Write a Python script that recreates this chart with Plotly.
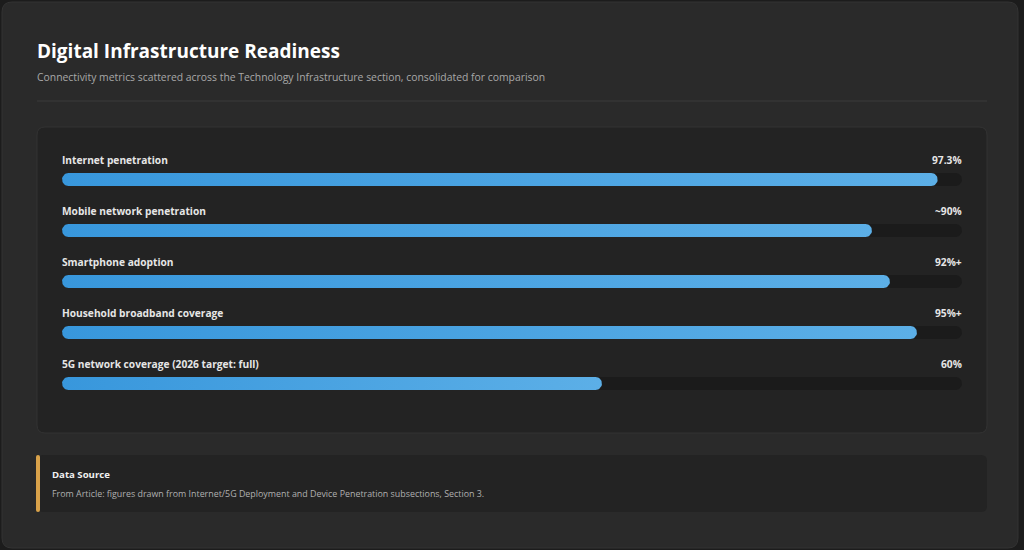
import math
import plotly.graph_objects as go

# ---- data ----
categories = [
    "Internet penetration",
    "Mobile network penetration",
    "Smartphone adoption",
    "Household broadband coverage",
    "5G network coverage (2026 target: full)",
]
values = [97.3, 90, 92, 95, 60]
value_labels = ["97.3%", "~90%", "92%+", "95%+", "60%"]
track_max = 100

title = "Digital Infrastructure Readiness"
subtitle = "Connectivity metrics scattered across the Technology Infrastructure section, consolidated for comparison"
source_title = "Data Source"
source_text = "From Article: figures drawn from Internet/5G Deployment and Device Penetration subsections, Section 3."

W, H = 1024, 550
L, R = 62, 962          # plot area x pixels
T, B = 154, 409         # plot area y pixels
BAR_PX = 13             # bar thickness in pixels

def px(x):
    return (x - L) / (R - L)

def py(y):
    return (B - y) / (B - T)

def rrect(x0, y0, x1, y1, r):
    X0, X1 = px(x0), px(x1)
    Y0, Y1 = py(y0), py(y1)
    rx = r / (R - L)
    ry = r / (B - T)
    return (f"M {X0+rx},{Y0} L {X1-rx},{Y0} Q {X1},{Y0} {X1},{Y0-ry} "
            f"L {X1},{Y1+ry} Q {X1},{Y1} {X1-rx},{Y1} L {X0+rx},{Y1} "
            f"Q {X0},{Y1} {X0},{Y1+ry} L {X0},{Y0-ry} Q {X0},{Y0} {X0+rx},{Y0} Z")

# pixel -> data unit conversions for the pill shapes
x_per_px = 100 / (R - L)
y_per_px = 5 / (B - T)

def pill(value, row):
    r = BAR_PX / 2
    rx, ry = r * x_per_px, r * y_per_px
    xs, ys = [], []
    n = 16
    for k in range(n + 1):
        a = -math.pi / 2 + math.pi * k / n
        xs.append(value - rx + rx * math.cos(a))
        ys.append(row + ry * math.sin(a))
    for k in range(n + 1):
        a = math.pi / 2 + math.pi * k / n
        xs.append(rx + rx * math.cos(a))
        ys.append(row + ry * math.sin(a))
    xs.append(xs[0]); ys.append(ys[0])
    return xs, ys

fig = go.Figure()
for i, (c, v) in enumerate(zip(categories, values)):
    tx, ty = pill(track_max, i)
    fig.add_trace(go.Scatter(x=tx, y=ty, mode="lines", fill="toself",
                             fillcolor="#1b1b1b", line=dict(width=0),
                             hoverinfo="skip", showlegend=False))
for i, (c, v) in enumerate(zip(categories, values)):
    bx, by = pill(v, i)
    fig.add_trace(go.Scatter(x=bx, y=by, mode="lines", fill="toself",
                             fillgradient=dict(type="horizontal",
                                               colorscale=[[0, "#3897dc"], [1, "#5cafe7"]]),
                             line=dict(width=0), name=c,
                             hoveron="fills", hoverinfo="name", showlegend=False))

shapes = [
    dict(type="path", path=rrect(2, 2, 1018, 548, 10), xref="paper", yref="paper",
         fillcolor="#2a2a2a", line=dict(color="#333333", width=1), layer="below"),
    dict(type="line", x0=px(37), x1=px(987), y0=py(101), y1=py(101), xref="paper", yref="paper",
         line=dict(color="#3a3a3a", width=1), layer="below"),
    dict(type="path", path=rrect(37, 127, 987, 433, 8), xref="paper", yref="paper",
         fillcolor="#232323", line=dict(color="#333333", width=1), layer="below"),
    dict(type="path", path=rrect(37, 455, 987, 512, 6), xref="paper", yref="paper",
         fillcolor="#232323", line=dict(width=0), layer="below"),
    dict(type="path", path=rrect(36, 455, 40, 512, 2), xref="paper", yref="paper",
         fillcolor="#d9a24a", line=dict(width=0), layer="below"),
]

FONT = "Open Sans"
annotations = [
    dict(text=f"<b>{title}</b>", x=px(35), y=py(51), xref="paper", yref="paper",
         xanchor="left", yanchor="middle", showarrow=False,
         font=dict(size=19, color="#ffffff", family=FONT)),
    dict(text=subtitle, x=px(35), y=py(77), xref="paper", yref="paper",
         xanchor="left", yanchor="middle", showarrow=False,
         font=dict(size=10.4, color="#a8a8a8", family=FONT)),
    dict(text=f"<b>{source_title}</b>", x=px(50), y=py(474), xref="paper", yref="paper",
         xanchor="left", yanchor="middle", showarrow=False,
         font=dict(size=9.6, color="#f0f0f0", family=FONT)),
    dict(text=source_text, x=px(50), y=py(493), xref="paper", yref="paper",
         xanchor="left", yanchor="middle", showarrow=False,
         font=dict(size=8.9, color="#b0b0b0", family=FONT)),
]
for i, (c, v) in enumerate(zip(categories, value_labels)):
    annotations.append(dict(text=f"<b>{c}</b>", x=0, y=i, xref="paper", yref="y",
                            xanchor="left", yanchor="middle", yshift=20, xshift=-2,
                            showarrow=False,
                            font=dict(size=10.2, color="#e6e6e6", family=FONT)))
    annotations.append(dict(text=f"<b>{v}</b>", x=1, y=i, xref="paper", yref="y",
                            xanchor="right", yanchor="middle", yshift=20, xshift=2,
                            showarrow=False,
                            font=dict(size=10.2, color="#e6e6e6", family=FONT)))

fig.update_layout(
    width=W, height=H,
    margin=dict(l=L, r=W - R, t=T, b=H - B, pad=0),
    paper_bgcolor="#1c1c1c", plot_bgcolor="rgba(0,0,0,0)",
    xaxis=dict(range=[0, 100], visible=False, fixedrange=True),
    yaxis=dict(range=[4.5, -0.5], visible=False, fixedrange=True),
    shapes=shapes, annotations=annotations,
    showlegend=False, hovermode="closest",
)

fig.write_html("out.html", config={"displayModeBar": False},
               post_script="document.body.style.margin='0';document.body.style.background='#1c1c1c';document.body.style.overflow='hidden';")
